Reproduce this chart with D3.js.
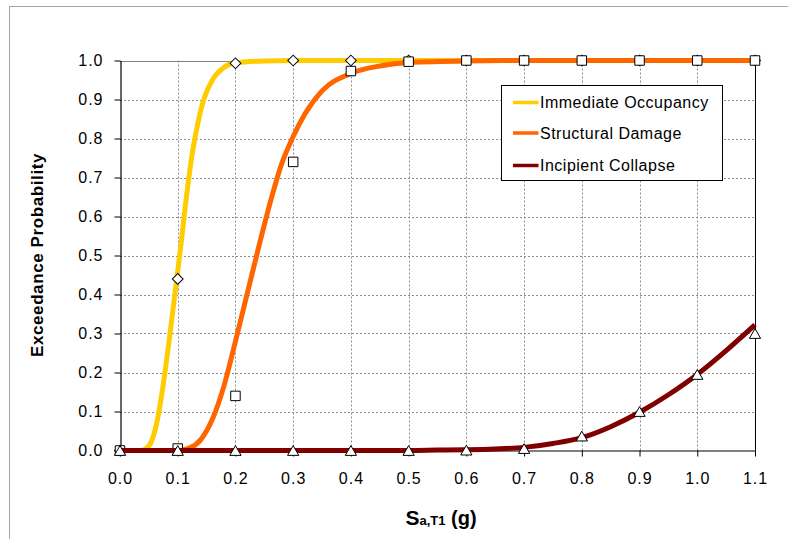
<!DOCTYPE html>
<html>
<head>
<meta charset="utf-8">
<script src="https://cdn.jsdelivr.net/npm/d3@7"></script>
<style>
  body { margin: 0; background: #fff; }
  text { font-family: "Liberation Sans", Arial, sans-serif; }
</style>
</head>
<body>
<div id="chart"></div>
<script>
// tick values
const xTicks = [0, 0.1, 0.2, 0.3, 0.4, 0.5, 0.6, 0.7, 0.8, 0.9, 1.0, 1.1];
const yTicks = [0, 0.1, 0.2, 0.3, 0.4, 0.5, 0.6, 0.7, 0.8, 0.9, 1.0];

// marker points (same x for every series)
const markX = [0, 0.1, 0.2, 0.3, 0.4, 0.5, 0.6, 0.7, 0.8, 0.9, 1.0, 1.1];
const ioMarks = [0, 0.44, 0.993, 1, 1, 1, 1, 1, 1, 1, 1, 1];
const sdMarks = [0, 0.005, 0.14, 0.74, 0.973, 0.997, 1, 1, 1, 1, 1, 1];
const icMarks = [0, 0, 0, 0, 0, 0, 0.001, 0.005, 0.037, 0.10, 0.195, 0.30];

// fitted curves
const ioCurveX = [0, 0.035, 0.045, 0.055, 0.065, 0.075, 0.085, 0.095, 0.105, 0.115, 0.125, 0.135, 0.145, 0.16, 0.18, 0.2, 0.25, 0.3, 1.1];
const ioCurveY = [0, 0, 0.005, 0.025, 0.08, 0.17, 0.28, 0.4, 0.52, 0.65, 0.76, 0.84, 0.9, 0.95, 0.982, 0.994, 0.999, 1, 1];
const sdCurveX = [0, 0.1, 0.12, 0.14, 0.16, 0.18, 0.2, 0.22, 0.24, 0.26, 0.28, 0.3, 0.32, 0.35, 0.4, 0.45, 0.5, 0.6, 0.7, 1.1];
const sdCurveY = [0, 0, 0.006, 0.028, 0.08, 0.165, 0.28, 0.4, 0.52, 0.635, 0.735, 0.805, 0.862, 0.922, 0.967, 0.986, 0.995, 0.999, 1, 1];
const icCurveX = [0, 0.5, 0.55, 0.6, 0.65, 0.7, 0.75, 0.8, 0.85, 0.9, 0.95, 1.0, 1.05, 1.1];
const icCurveY = [0, 0, 0.001, 0.002, 0.004, 0.008, 0.018, 0.033, 0.061, 0.098, 0.143, 0.195, 0.256, 0.322];

const seriesNames = ['Immediate Occupancy', 'Structural Damage', 'Incipient Collapse'];
const colors = ['#FFCC00', '#FF6600', '#800000'];

const w = 788, h = 539;
const pLeft = 120, pRight = 755, pTop = 60.5, pBottom = 450.5;

const svg = d3.select('#chart').append('svg')
  .attr('width', w)
  .attr('height', h);

// outer chart border
svg.append('rect')
  .attr('x', 9.5).attr('y', 6.5)
  .attr('width', 900).attr('height', 700)
  .attr('fill', 'none')
  .attr('stroke', '#a6a6a6');

const x = d3.scaleLinear().domain([0, 1.1]).range([pLeft, pRight]);
const y = d3.scaleLinear().domain([0, 1]).range([pBottom, pTop]);

// gridlines
svg.append('g')
  .selectAll('line')
  .data(xTicks.filter(d => d > 0 && d < 1.1))
  .enter().append('line')
  .attr('x1', d => Math.round(x(d)) + 0.5).attr('x2', d => Math.round(x(d)) + 0.5)
  .attr('y1', pTop).attr('y2', pBottom)
  .attr('stroke', '#8c8c8c')
  .attr('stroke-dasharray', '2,2');

svg.append('g')
  .selectAll('line')
  .data(yTicks.filter(d => d > 0 && d < 1))
  .enter().append('line')
  .attr('y1', d => Math.round(y(d)) + 0.5).attr('y2', d => Math.round(y(d)) + 0.5)
  .attr('x1', pLeft).attr('x2', pRight)
  .attr('stroke', '#8c8c8c')
  .attr('stroke-dasharray', '2,2');

// top and right borders
svg.append('line')
  .attr('x1', pLeft).attr('x2', pRight)
  .attr('y1', Math.round(y(1)) + 0.5).attr('y2', Math.round(y(1)) + 0.5)
  .attr('stroke', '#808080');
svg.append('line')
  .attr('x1', pRight + 0.5).attr('x2', pRight + 0.5)
  .attr('y1', pTop).attr('y2', pBottom)
  .attr('stroke', '#000');

// axes
const xAxis = d3.axisBottom(x).tickValues(xTicks).tickFormat(d3.format('.1f'))
  .tickSizeInner(6).tickSizeOuter(0).tickPadding(16);
const yAxis = d3.axisLeft(y).tickValues(yTicks).tickFormat(d3.format('.1f'))
  .tickSizeInner(6).tickSizeOuter(0).tickPadding(11);

const gx = svg.append('g')
  .attr('transform', `translate(0, ${pBottom})`)
  .call(xAxis);
const gy = svg.append('g')
  .attr('transform', `translate(${pLeft + 0.5}, 0)`)
  .call(yAxis);

[gx, gy].forEach(g => {
  g.selectAll('text')
    .style('font-size', '16px')
    .style('letter-spacing', '1px')
    .attr('fill', '#000');
  g.selectAll('line').attr('stroke', '#000');
  g.select('.domain').attr('stroke', '#000').attr('stroke-width', 1.2);
});

// series
const line = d3.line()
  .x(d => x(d[0]))
  .y(d => y(d[1]))
  .curve(d3.curveMonotoneX);

const curves = [
  d3.zip(ioCurveX, ioCurveY),
  d3.zip(sdCurveX, sdCurveY),
  d3.zip(icCurveX, icCurveY)
];
const marks = [
  d3.zip(markX, ioMarks),
  d3.zip(markX, sdMarks),
  d3.zip(markX, icMarks)
];

const symDiamond = d3.symbol().type(d3.symbolSquare).size(58)();
const symSquare = d3.symbol().type(d3.symbolSquare).size(90)();
const symTriangle = d3.symbol().type(d3.symbolTriangle).size(55)();
const triShift = Math.sqrt(55 / (Math.sqrt(3) * 3)) / 2;

curves.forEach((c, i) => {
  svg.append('path')
    .datum(c)
    .attr('d', line)
    .attr('fill', 'none')
    .attr('stroke', colors[i])
    .attr('stroke-width', 5)
    .attr('stroke-linejoin', 'round');

  svg.append('g')
    .selectAll('path')
    .data(marks[i])
    .enter().append('path')
    .attr('d', i === 0 ? symDiamond : i === 1 ? symSquare : symTriangle)
    .attr('transform', d => {
      if (i === 0) return `translate(${x(d[0])}, ${y(d[1])}) rotate(45)`;
      if (i === 2) return `translate(${x(d[0])}, ${y(d[1]) + triShift})`;
      return `translate(${x(d[0])}, ${y(d[1])})`;
    })
    .attr('fill', '#fff')
    .attr('stroke', '#000')
    .attr('stroke-width', 1);
});

// axis titles
svg.append('text')
  .attr('transform', 'translate(43, 255) rotate(-90)')
  .attr('text-anchor', 'middle')
  .style('font-size', '17px')
  .style('font-weight', 'bold')
  .style('letter-spacing', '0.6px')
  .text('Exceedance Probability');

const xt = svg.append('text')
  .attr('x', 441)
  .attr('y', 525)
  .attr('text-anchor', 'middle')
  .style('font-weight', 'bold');
xt.append('tspan').style('font-size', '21px').text('S');
xt.append('tspan').style('font-size', '13px').text('a,T1');
xt.append('tspan').style('font-size', '20px').text(' (g)');

// legend
const legend = svg.append('g')
  .attr('transform', 'translate(501.5, 85.5)');
legend.append('rect')
  .attr('width', 221)
  .attr('height', 95)
  .attr('fill', '#fff')
  .attr('stroke', '#000');

const rowY = [17, 47.5, 80];
seriesNames.forEach((name, i) => {
  legend.append('line')
    .attr('x1', 11.5).attr('x2', 37)
    .attr('y1', rowY[i]).attr('y2', rowY[i])
    .attr('stroke', colors[i])
    .attr('stroke-width', 3.5);
  legend.append('text')
    .attr('x', 38.5)
    .attr('y', rowY[i])
    .attr('dy', '0.36em')
    .style('font-size', '16px')
    .style('letter-spacing', '0.5px')
    .text(name);
});
</script>
</body>
</html>
